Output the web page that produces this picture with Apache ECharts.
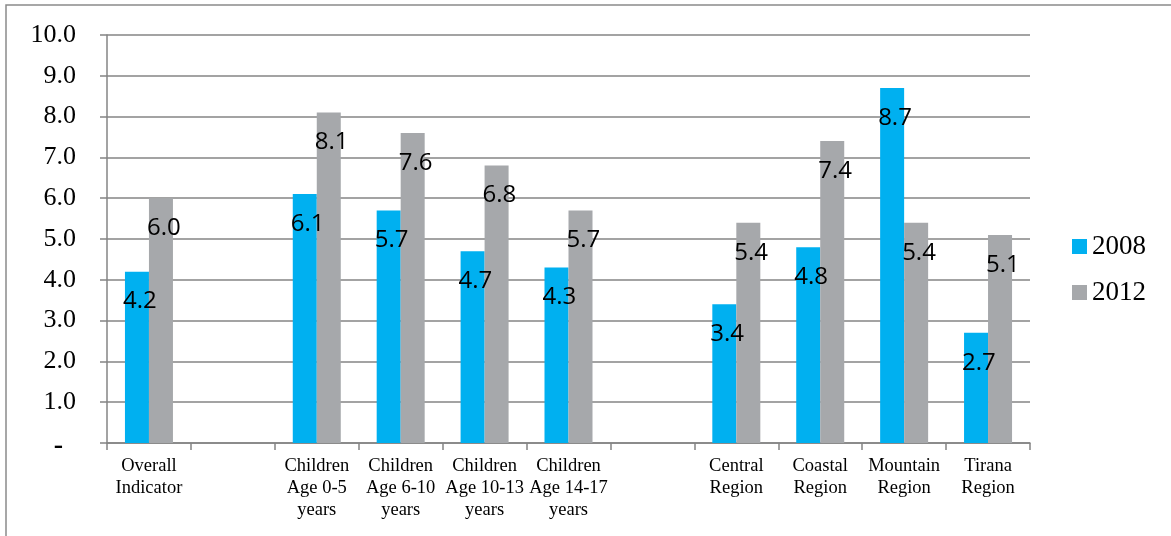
<!DOCTYPE html>
<html>
<head>
<meta charset="utf-8">
<script src="https://cdn.jsdelivr.net/npm/echarts@6/dist/echarts.min.js"></script>
<style>
  html, body { margin: 0; padding: 0; background: #fff; }
  #chart { width: 1171px; height: 536px; }
</style>
</head>
<body>
<div id="chart"></div>
<script>
// Category slots; the two blank slots separate the groups of bars
const categories = [
  'Overall\nIndicator',
  ' ',
  'Children\nAge 0-5\nyears',
  'Children\nAge 6-10\nyears',
  'Children\nAge 10-13\nyears',
  'Children\nAge 14-17\nyears',
  '  ',
  'Central\nRegion',
  'Coastal\nRegion',
  'Mountain\nRegion',
  'Tirana\nRegion'
];
const values2008 = [4.2, null, 6.1, 5.7, 4.7, 4.3, null, 3.4, 4.8, 8.7, 2.7];
const values2012 = [6.0, null, 8.1, 7.6, 6.8, 5.7, null, 5.4, 7.4, 5.4, 5.1];
const seriesNames = ['2008', '2012'];
const yTicks = [0, 1, 2, 3, 4, 5, 6, 7, 8, 9, 10];

const serif = '"Liberation Serif", "Times New Roman", serif';
const gridColor = '#848484';

const barLabel = {
  show: true,
  position: ['62%', 30],
  align: 'center',
  verticalAlign: 'middle',
  fontFamily: '"Open Sans", sans-serif',
  fontSize: 24,
  color: '#000',
  formatter: p => p.value == null ? '' : Number(p.value).toFixed(1)
};

const chart = echarts.init(document.getElementById('chart'), null, { renderer: 'canvas' });
chart.setOption({
  animation: false,
  backgroundColor: '#fff',
  graphic: [{
    type: 'rect',
    shape: { x: 6, y: 5, width: 1300, height: 700 },
    style: { fill: 'none', stroke: '#8a8a8a', lineWidth: 1.5 },
    silent: true
  }],
  grid: { left: 107, right: 141, top: 35, bottom: 93 },
  legend: {
    orient: 'vertical',
    left: 1072,
    top: 233,
    padding: 0,
    itemWidth: 15,
    itemHeight: 15,
    itemGap: 19,
    icon: 'rect',
    data: seriesNames,
    textStyle: { fontFamily: serif, fontSize: 27, color: '#000' }
  },
  xAxis: {
    type: 'category',
    data: categories,
    boundaryGap: true,
    axisLine: { lineStyle: { color: gridColor, width: 1.5 } },
    axisTick: { show: true, length: 7, alignWithLabel: false, lineStyle: { color: gridColor, width: 1.5 } },
    axisLabel: {
      interval: 0,
      margin: 12,
      fontFamily: serif,
      fontSize: 18.5,
      lineHeight: 22,
      color: '#000'
    }
  },
  yAxis: {
    type: 'value',
    min: 0,
    max: 10,
    interval: 1,
    axisLine: { show: true, lineStyle: { color: gridColor, width: 1.5 } },
    axisTick: { show: true, length: 7, lineStyle: { color: gridColor, width: 1.5 } },
    splitLine: { show: true, lineStyle: { color: gridColor, width: 1.5 } },
    axisLabel: {
      margin: 31,
      fontFamily: serif,
      fontSize: 26,
      color: '#000',
      formatter: v => yTicks.includes(v) ? (v === 0 ? '{z|-}' : v.toFixed(1)) : '',
      rich: { z: { fontFamily: serif, fontSize: 28, fontWeight: 'bold', color: '#000', padding: [6, 13, 0, 0] } }
    }
  },
  series: [
    {
      name: seriesNames[0],
      type: 'bar',
      data: values2008,
      barWidth: 24,
      barGap: '0%',
      itemStyle: { color: '#00B0F0' },
      label: barLabel
    },
    {
      name: seriesNames[1],
      type: 'bar',
      data: values2012,
      barWidth: 24,
      barGap: '0%',
      itemStyle: { color: '#A6A8AB' },
      label: barLabel
    }
  ]
});
</script>
</body>
</html>
